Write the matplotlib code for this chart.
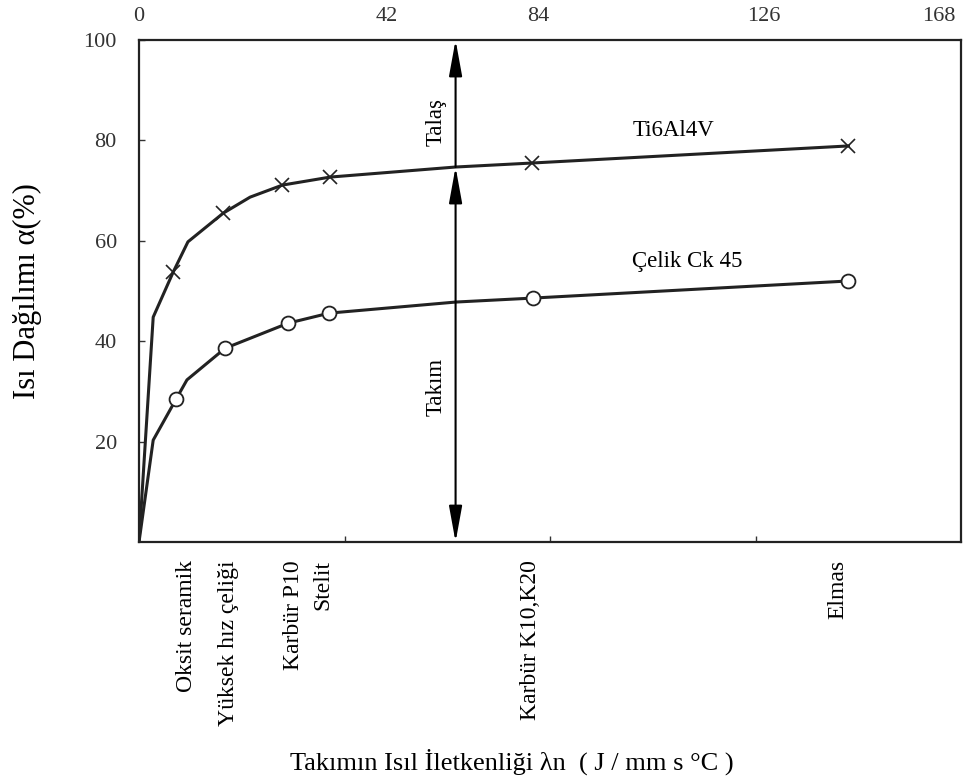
import matplotlib
matplotlib.use("Agg")
import matplotlib.pyplot as plt
import matplotlib.transforms as mtransforms

plt.rcParams['font.family'] = ['Liberation Serif', 'DejaVu Serif']

# Ti6Al4V curve (line points) and its marked points
ti_x = [0, 2.9, 7.0, 10.0, 17.2, 22.7, 29.3, 39.1, 64.7, 80.4, 145.0]
ti_y = [0, 44.8, 53.8, 59.8, 65.5, 68.7, 71.1, 72.7, 74.7, 75.5, 78.9]
ti_mark_x = [7.0, 17.2, 29.3, 39.1, 80.4, 145.0]
ti_mark_y = [53.8, 65.5, 71.1, 72.7, 75.5, 78.9]

# Celik Ck 45 curve and its marked points
ck_x = [0, 2.9, 7.6, 9.8, 17.6, 30.5, 38.9, 64.7, 80.6, 145.0]
ck_y = [0, 20.3, 28.5, 32.3, 38.6, 43.6, 45.6, 47.8, 48.6, 52.0]
ck_mark_x = [7.6, 17.6, 30.5, 38.9, 80.6, 145.0]
ck_mark_y = [28.5, 38.6, 43.6, 45.6, 48.6, 52.0]

# tool materials written under the axis
tool_names = ["Oksit seramik", "Yüksek hız çeliği", "Karbür P10", "Stelit",
              "Karbür K10,K20", "Elmas"]
tool_x = [9.8, 18.2, 31.5, 37.6, 80.0, 142.8]

# top axis labels (drawn where the original has them)
top_pos = [0, 50.7, 81.6, 127.7, 163.5]
top_labels = ["0", "42", "84", "126", "168"]

split_x = 64.7
split_y = 74.7

fig = plt.figure(figsize=(9.64, 7.8), dpi=100)
ax = fig.add_axes([0.1442, 0.3051, 0.8527, 0.6436])

ax.plot(ti_x, ti_y, color="#222222", linewidth=2.2)
ax.plot(ti_mark_x, ti_mark_y, linestyle="none", marker="x", markersize=10,
        markeredgewidth=1.2, color="#222222")
ax.plot(ck_x, ck_y, color="#222222", linewidth=2.2)
ax.plot(ck_mark_x, ck_mark_y, linestyle="none", marker="o", markersize=10,
        markerfacecolor="white", markeredgewidth=1.3, color="#222222")

# arrows splitting heat between chip and tool
head = "head_length=1.1,head_width=0.2"
ax.annotate("", xy=(split_x, 100), xytext=(split_x, split_y),
            arrowprops=dict(arrowstyle="-|>," + head,
                            color="black", lw=1.5, shrinkA=0, shrinkB=0,
                            mutation_scale=20))
ax.annotate("", xy=(split_x, 0), xytext=(split_x, split_y),
            arrowprops=dict(arrowstyle="<|-|>," + head,
                            color="black", lw=1.5, shrinkA=0, shrinkB=0,
                            mutation_scale=20))

ax.text(60.8, 83.7, "Talaş", rotation=90, ha="center", va="center", fontsize=16.5)
ax.text(60.8, 30.9, "Takım", rotation=90, ha="center", va="center", fontsize=16.5)
ax.text(109.3, 82, "Ti6Al4V", ha="center", va="center", fontsize=16.5)
ax.text(112.1, 55.8, "Çelik Ck 45", ha="center", va="center", fontsize=16.5)

ax.set_xlim(0, 168)
ax.set_ylim(0, 100)
ax.set_xticks([42, 84, 126])
ax.set_xticklabels([])
ax.set_yticks([20, 40, 60, 80, 100])
ax.tick_params(axis="both", direction="in", length=4, width=1, labelsize=16,
               pad=16, colors="#333333")

for s in ax.spines.values():
    s.set_linewidth(1.6)
    s.set_color("#222222")

top = ax.secondary_xaxis("top")
top.set_xticks(top_pos)
top.set_xticklabels(top_labels)
top.tick_params(length=0, pad=10, labelsize=16, colors="#333333")
top.spines["top"].set_visible(False)

trans = mtransforms.blended_transform_factory(ax.transData, ax.transAxes)
for name, x in zip(tool_names, tool_x):
    ax.text(x, -0.036, name, rotation=90, ha="center", va="top",
            fontsize=17, transform=trans)

ax.set_ylabel("Isı Dağılımı α(%)", fontsize=22, labelpad=30)
fig.text(0.531, 0.023, "Takımın Isıl İletkenliği λn  ( J / mm s °C )",
         ha="center", va="center", fontsize=19)

plt.savefig("out.png", dpi=100)
